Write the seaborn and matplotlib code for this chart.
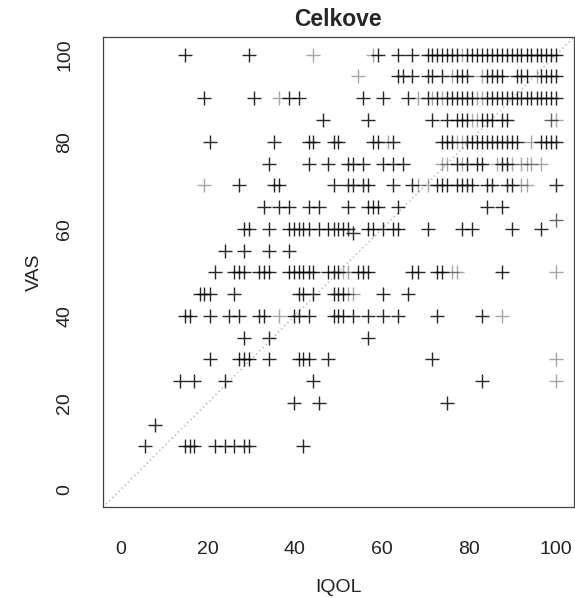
import numpy as np
import pandas as pd
import seaborn as sns
import matplotlib.pyplot as plt

# IQOL values per VAS row (darker marks = several patients on the same spot)
vas100 = [14.8, 29.5, 59.1, 63.6, 67.0, 70.5, 71.6, 72.7, 73.9, 75.0, 76.1, 77.3, 79.5, 80.7, 81.8,
          83.0, 84.1, 85.2, 86.4, 87.5, 88.6, 89.8, 90.9, 92.0, 93.2, 94.3, 95.5, 96.6, 97.7, 98.9, 100.0]
vas95 = [63.6, 64.8, 67.0, 70.5, 71.6, 73.9, 77.3, 78.4, 79.5, 84.1, 85.2, 86.4, 87.5, 90.9, 92.0,
         93.2, 96.6, 97.7, 98.9, 100.0]
vas90 = [19.3, 30.7, 38.6, 40.9, 55.7, 60.2, 65.9, 70.5, 72.7, 75.0, 76.1, 77.3, 78.4, 79.5, 80.7,
         84.1, 85.2, 86.4, 87.5, 88.6, 89.8, 90.9, 92.0, 93.2, 94.3, 95.5, 96.6, 97.7, 98.9, 100.0]
vas85 = [46.6, 56.8, 71.6, 75.0, 77.3, 78.4, 79.5, 83.0, 84.1, 85.2, 87.5, 88.6]
vas80 = [20.5, 35.2, 43.2, 44.3, 48.9, 50.0, 58.0, 59.1, 62.5, 73.9, 75.0, 76.1, 79.5, 80.7, 81.8,
         83.0, 84.1, 85.2, 86.4, 87.5, 88.6, 89.8, 90.9, 96.6, 97.7, 98.9, 100.0]
vas75 = [34.1, 43.2, 47.7, 52.3, 53.4, 55.7, 60.2, 62.5, 64.8, 77.3, 79.5, 81.8, 83.0, 87.5, 88.6]
vas70 = [27.3, 35.2, 36.4, 48.9, 52.3, 53.4, 55.7, 56.8, 62.5, 67.0, 72.7, 73.9, 75.0, 77.3, 78.4,
         79.5, 80.7, 84.1, 85.2, 88.6, 89.8, 100.0]
vas65 = [33.0, 36.4, 38.6, 43.2, 45.5, 52.3, 56.8, 58.0, 59.1, 63.6, 84.1, 87.5]
vas60 = [28.4, 29.5, 34.1, 38.6, 39.8, 40.9, 42.0, 43.2, 45.5, 47.7, 48.9, 50.0, 51.1, 52.3, 56.8,
         58.0, 60.2, 62.5, 63.6, 70.5, 78.4, 80.7, 89.8, 96.6]
vas59 = [53.4]
vas55 = [23.9, 28.4, 34.1, 38.6]
vas50 = [21.6, 26.1, 27.3, 28.4, 31.8, 33.0, 34.1, 38.6, 39.8, 40.9, 42.0, 43.2, 44.3, 47.7, 48.9,
         50.0, 54.5, 55.7, 56.8, 67.0, 68.2, 72.7, 73.9, 87.5]
vas45 = [18.2, 19.3, 20.5, 26.1, 40.9, 42.0, 44.3, 48.9, 50.0, 51.1, 60.2, 65.9]
vas40 = [14.8, 15.9, 20.5, 25.0, 27.3, 31.8, 33.0, 39.8, 40.9, 43.2, 48.9, 50.0, 51.1, 53.4, 56.8,
         60.2, 63.6, 72.7, 83.0]
vas35 = [28.4, 34.1, 56.8]
vas30 = [20.5, 27.3, 28.4, 29.5, 34.1, 40.9, 42.0, 43.2, 47.7, 71.6]
vas25 = [13.6, 17.0, 23.9, 44.3, 83.0]
vas20 = [39.8, 45.5, 75.0]
vas15 = [8.0]
vas10 = [5.7, 14.8, 15.9, 17.0, 21.6, 23.9, 26.1, 28.4, 29.5, 42.0]

# medium grey marks (two patients)
mid_iqol = [98.9, 100.0]
mid_vas = [85, 62]

# light grey marks (single patient)
faint_iqol = [44.3, 58.0, 78.4, 54.5, 76.1, 83.0, 95.5, 36.4, 68.2, 71.6, 73.9, 81.8, 83.0,
              80.7, 81.8, 100.0, 61.4, 77.3, 78.4, 94.3, 73.9, 75.0, 78.4, 86.4, 89.8, 92.0,
              93.2, 94.3, 96.6, 19.3, 68.2, 70.5, 92.0, 93.2, 51.1, 52.3, 76.1, 77.3, 100.0,
              52.3, 53.4, 36.4, 87.5, 100.0, 100.0]
faint_vas = [100, 100, 100, 95, 95, 95, 95, 90, 90, 90, 90, 90, 90,
             85, 85, 85, 80, 80, 80, 80, 75, 75, 75, 75, 75, 75,
             75, 75, 75, 70, 70, 70, 70, 70, 50, 50, 50, 50, 50,
             45, 45, 40, 40, 30, 25]

rows = {100: vas100, 95: vas95, 90: vas90, 85: vas85, 80: vas80, 75: vas75, 70: vas70,
        65: vas65, 60: vas60, 59: vas59, 55: vas55, 50: vas50, 45: vas45, 40: vas40,
        35: vas35, 30: vas30, 25: vas25, 20: vas20, 15: vas15, 10: vas10}
dark = pd.DataFrame([(x, v) for v, xs in rows.items() for x in xs], columns=['IQOL', 'VAS'])
mid = pd.DataFrame({'IQOL': mid_iqol, 'VAS': mid_vas})
faint = pd.DataFrame({'IQOL': faint_iqol, 'VAS': faint_vas})

sns.set_style('white')
plt.rcParams['font.family'] = ['Liberation Sans', 'DejaVu Sans']

fig = plt.figure(figsize=(5.75, 5.98), dpi=100)
ax = fig.add_axes([0.179, 0.1515, 0.8187, 0.7861])

ax.axline((0, 0), slope=1, ls=':', color='#c4c4c4', lw=1.2, zorder=1)

for df, a in [(faint, 0.35), (mid, 0.6), (dark, 0.85)]:
    sns.scatterplot(data=df, x='IQOL', y='VAS', marker='+', s=110, color='black',
                    alpha=a, linewidth=1.0, ax=ax, legend=False, zorder=2)

ax.set_xlim(-4, 104)
ax.set_ylim(-4, 104)
ax.set_xticks(range(0, 101, 20))
ax.set_yticks(range(0, 101, 20))
ax.tick_params(axis='both', length=9.5, width=0.8, color='#444444', labelsize=14, labelcolor='#222222')
ax.tick_params(axis='x', pad=15)
ax.tick_params(axis='y', pad=12, labelrotation=90)
for lab in ax.get_yticklabels():
    lab.set_va('center')

for sp in ax.spines.values():
    sp.set_color('#444444')
    sp.set_linewidth(0.9)

ax.set_title('Celkove', fontsize=16.5, fontweight='bold', pad=8)
ax.set_xlabel('IQOL', fontsize=14, color='#222222')
ax.set_ylabel('VAS', fontsize=14, color='#222222')
ax.xaxis.set_label_coords(0.5, -0.152)
ax.yaxis.set_label_coords(-0.127, 0.5)

fig.savefig('out.png', dpi=100)
